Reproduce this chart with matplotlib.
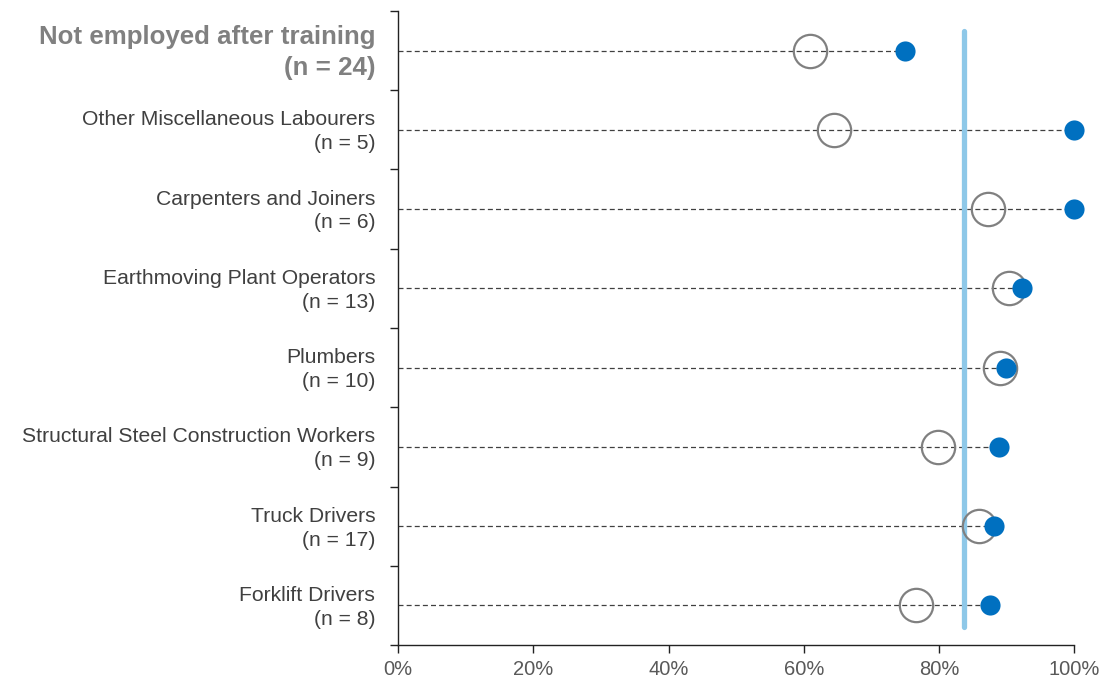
import matplotlib
matplotlib.use("Agg")
import matplotlib.pyplot as plt

plt.rcParams['font.family'] = ['Liberation Sans', 'DejaVu Sans']

categories = [
    "Not employed after training\n(n = 24)",
    "Other Miscellaneous Labourers\n(n = 5)",
    "Carpenters and Joiners\n(n = 6)",
    "Earthmoving Plant Operators\n(n = 13)",
    "Plumbers\n(n = 10)",
    "Structural Steel Construction Workers\n(n = 9)",
    "Truck Drivers\n(n = 17)",
    "Forklift Drivers\n(n = 8)",
]
open_vals = [60.9, 64.5, 87.3, 90.3, 89.1, 79.9, 85.9, 76.6]
filled_vals = [75.0, 100.0, 100.0, 92.3, 90.0, 88.9, 88.2, 87.5]
reference_val = 83.7
xticks = [0, 20, 40, 60, 80, 100]
xtick_labels = ["0%", "20%", "40%", "60%", "80%", "100%"]

fig = plt.figure(figsize=(11.09, 6.83), dpi=100)
ax = fig.add_axes([0.359, 0.0556, 0.6095, 0.9284])

ypos = list(range(len(categories)))

for y, o, f in zip(ypos, open_vals, filled_vals):
    ax.plot([0, max(o, f)], [y, y], linestyle=(0, (4, 2.5)), color="#404040",
            linewidth=0.9, zorder=1)

ax.plot([reference_val, reference_val], [0 - 0.25, len(categories) - 1 + 0.27],
        color="#8EC8E8", linewidth=3.8, solid_capstyle="round", zorder=2)

ax.plot(open_vals, ypos, linestyle="none", marker="o", markersize=24,
        markerfacecolor="none", markeredgecolor="#808080", markeredgewidth=1.6,
        zorder=3, clip_on=False)
ax.plot(filled_vals, ypos, linestyle="none", marker="o", markersize=14.5,
        markerfacecolor="#0070C0", markeredgecolor="#0070C0", markeredgewidth=0,
        zorder=4, clip_on=False)

ax.set_xlim(0, 100)
ax.set_ylim(len(categories) - 0.5, -0.5)
ax.set_xticks(xticks)
ax.set_xticklabels(xtick_labels, fontsize=14.5, color="#595959")

ax.set_yticks([i - 0.5 for i in range(len(categories) + 1)])
ax.set_yticklabels([])
ax.tick_params(axis="both", direction="out", length=6, width=1, color="#222222")
ax.tick_params(axis="x", pad=5)

for y, lab in zip(ypos, categories):
    if y == 0:
        ax.text(-3.4, y + 0.025, lab, ha="right", va="center", fontsize=18.6,
                fontweight="bold", color="#808080", linespacing=1.38,
                clip_on=False)
    else:
        ax.text(-3.4, y + 0.025, lab, ha="right", va="center", fontsize=15.2,
                color="#404040", linespacing=1.32, clip_on=False)

for s in ["top", "right"]:
    ax.spines[s].set_visible(False)
for s in ["left", "bottom"]:
    ax.spines[s].set_color("#222222")
    ax.spines[s].set_linewidth(1)

fig.savefig("out.png", dpi=100)
